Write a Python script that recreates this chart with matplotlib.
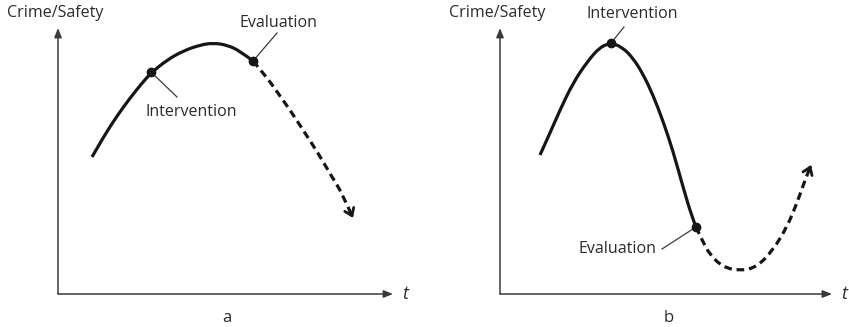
import matplotlib.pyplot as plt
import numpy as np
from matplotlib.path import Path
from matplotlib.patches import PathPatch

plt.rcParams["font.family"] = ["Open Sans", "DejaVu Sans"]

INK = "#161616"
AXIS = "#3a3a3a"
TEXT = "#2b2b2b"

# panel a: slow rise, peak, evaluation on the way down
a_t_solid = [34, 46, 59, 72, 85, 93, 109, 125, 142, 155, 169, 182, 195]
a_v_solid = [137, 158, 178, 196, 212, 221, 234, 243, 249, 251, 249, 243, 233]
a_t_dash = [195, 207, 220, 234, 247, 260, 274, 284, 295]
a_v_dash = [233, 219, 201, 181, 161, 141, 117, 101, 76]
a_intervention = (93, 222)
a_evaluation = (195, 233)

# panel b: sharp peak at intervention, trough after evaluation, rebound
b_t_solid = [40, 50, 60, 73, 87, 100, 111, 122, 133, 143, 153, 163, 173, 183, 192, 196]
b_v_solid = [139, 161, 184, 211, 232, 247, 251, 247, 236, 220, 199, 173, 143, 107, 77, 67]
b_t_dash = [196, 202, 210, 223, 240, 257, 273, 287, 297, 305, 311]
b_v_dash = [67, 54, 39, 27, 23, 27, 44, 67, 91, 114, 129]
b_intervention = (111, 251)
b_evaluation = (196, 67)

y_label = "Crime/Safety"
x_label = "t"
panel_names = ["a", "b"]

W, H = 849, 327
fig = plt.figure(figsize=(W / 100, H / 100), dpi=100)


def smooth(ts, vs):
    # quadratic bezier through the midpoints, points as control handles
    pts = np.column_stack([ts, vs]).astype(float)
    verts = [pts[0]]
    codes = [Path.MOVETO]
    for i in range(1, len(pts) - 1):
        end = pts[i + 1] if i == len(pts) - 2 else (pts[i] + pts[i + 1]) / 2
        verts += [pts[i], end]
        codes += [Path.CURVE3, Path.CURVE3]
    if len(pts) == 2:
        verts.append(pts[1])
        codes.append(Path.LINETO)
    return Path(verts, codes)


def make_axes(left_px, width_px):
    ax = fig.add_axes([left_px / W, 33 / H, width_px / W, 266 / H])
    ax.set_xlim(0, width_px)
    ax.set_ylim(0, 266)
    ax.axis("off")
    head = dict(arrowstyle="-|>,head_length=0.55,head_width=0.22",
                color=AXIS, lw=1.1, shrinkA=0, shrinkB=0)
    ax.annotate("", xy=(width_px, 0), xytext=(0, 0), arrowprops=head)
    ax.annotate("", xy=(0, 266), xytext=(0, 0), arrowprops=head)
    ax.text(-2.5, 281, y_label, ha="center", va="center", fontsize=11.5,
            color=TEXT, clip_on=False)
    ax.text(width_px + 12, 0, x_label, ha="center", va="center", fontsize=13,
            style="italic", color=TEXT, clip_on=False)
    return ax


def draw_curve(ax, ts, vs, td, vd):
    ax.add_patch(PathPatch(smooth(ts, vs), fill=False, ec=INK, lw=2.3,
                           capstyle="butt", joinstyle="round", clip_on=False))
    ax.add_patch(PathPatch(smooth(td, vd), fill=False, ec=INK, lw=2.3,
                           ls=(0, (2.4, 1.5)), capstyle="butt", clip_on=False))
    # open chevron at the end of the projection
    tip = np.array([td[-1], vd[-1]], float)
    back = tip + 0.2 * (np.array([td[-2], vd[-2]], float) - tip)
    ax.annotate("", xy=tip, xytext=back,
                arrowprops=dict(arrowstyle="->,head_length=0.5,head_width=0.35",
                                color=INK, lw=2.0, shrinkA=0, shrinkB=0))


def label_point(ax, pt, text, leader_end, text_pos):
    ax.plot(*pt, "o", color=INK, ms=6, clip_on=False, zorder=5)
    ax.plot([pt[0], leader_end[0]], [pt[1], leader_end[1]], color=AXIS,
            lw=0.9, clip_on=False)
    ax.text(*text_pos, text, ha="center", va="center", fontsize=11.5,
            color=TEXT, clip_on=False)


ax_a = make_axes(58, 335)
draw_curve(ax_a, a_t_solid, a_v_solid, a_t_dash, a_v_dash)
label_point(ax_a, a_intervention, "Intervention", (119, 197), (133, 182))
label_point(ax_a, a_evaluation, "Evaluation", (219, 261), (220, 271))
ax_a.text(169, -24, panel_names[0], ha="center", va="center", fontsize=12,
          color=TEXT, clip_on=False)

ax_b = make_axes(500, 332)
draw_curve(ax_b, b_t_solid, b_v_solid, b_t_dash, b_v_dash)
label_point(ax_b, b_intervention, "Intervention", (124, 267), (132, 280))
label_point(ax_b, b_evaluation, "Evaluation", (162, 45), (117, 45))
ax_b.text(169, -24, panel_names[1], ha="center", va="center", fontsize=12,
          color=TEXT, clip_on=False)

fig.savefig("out.png", dpi=100, facecolor="white")
